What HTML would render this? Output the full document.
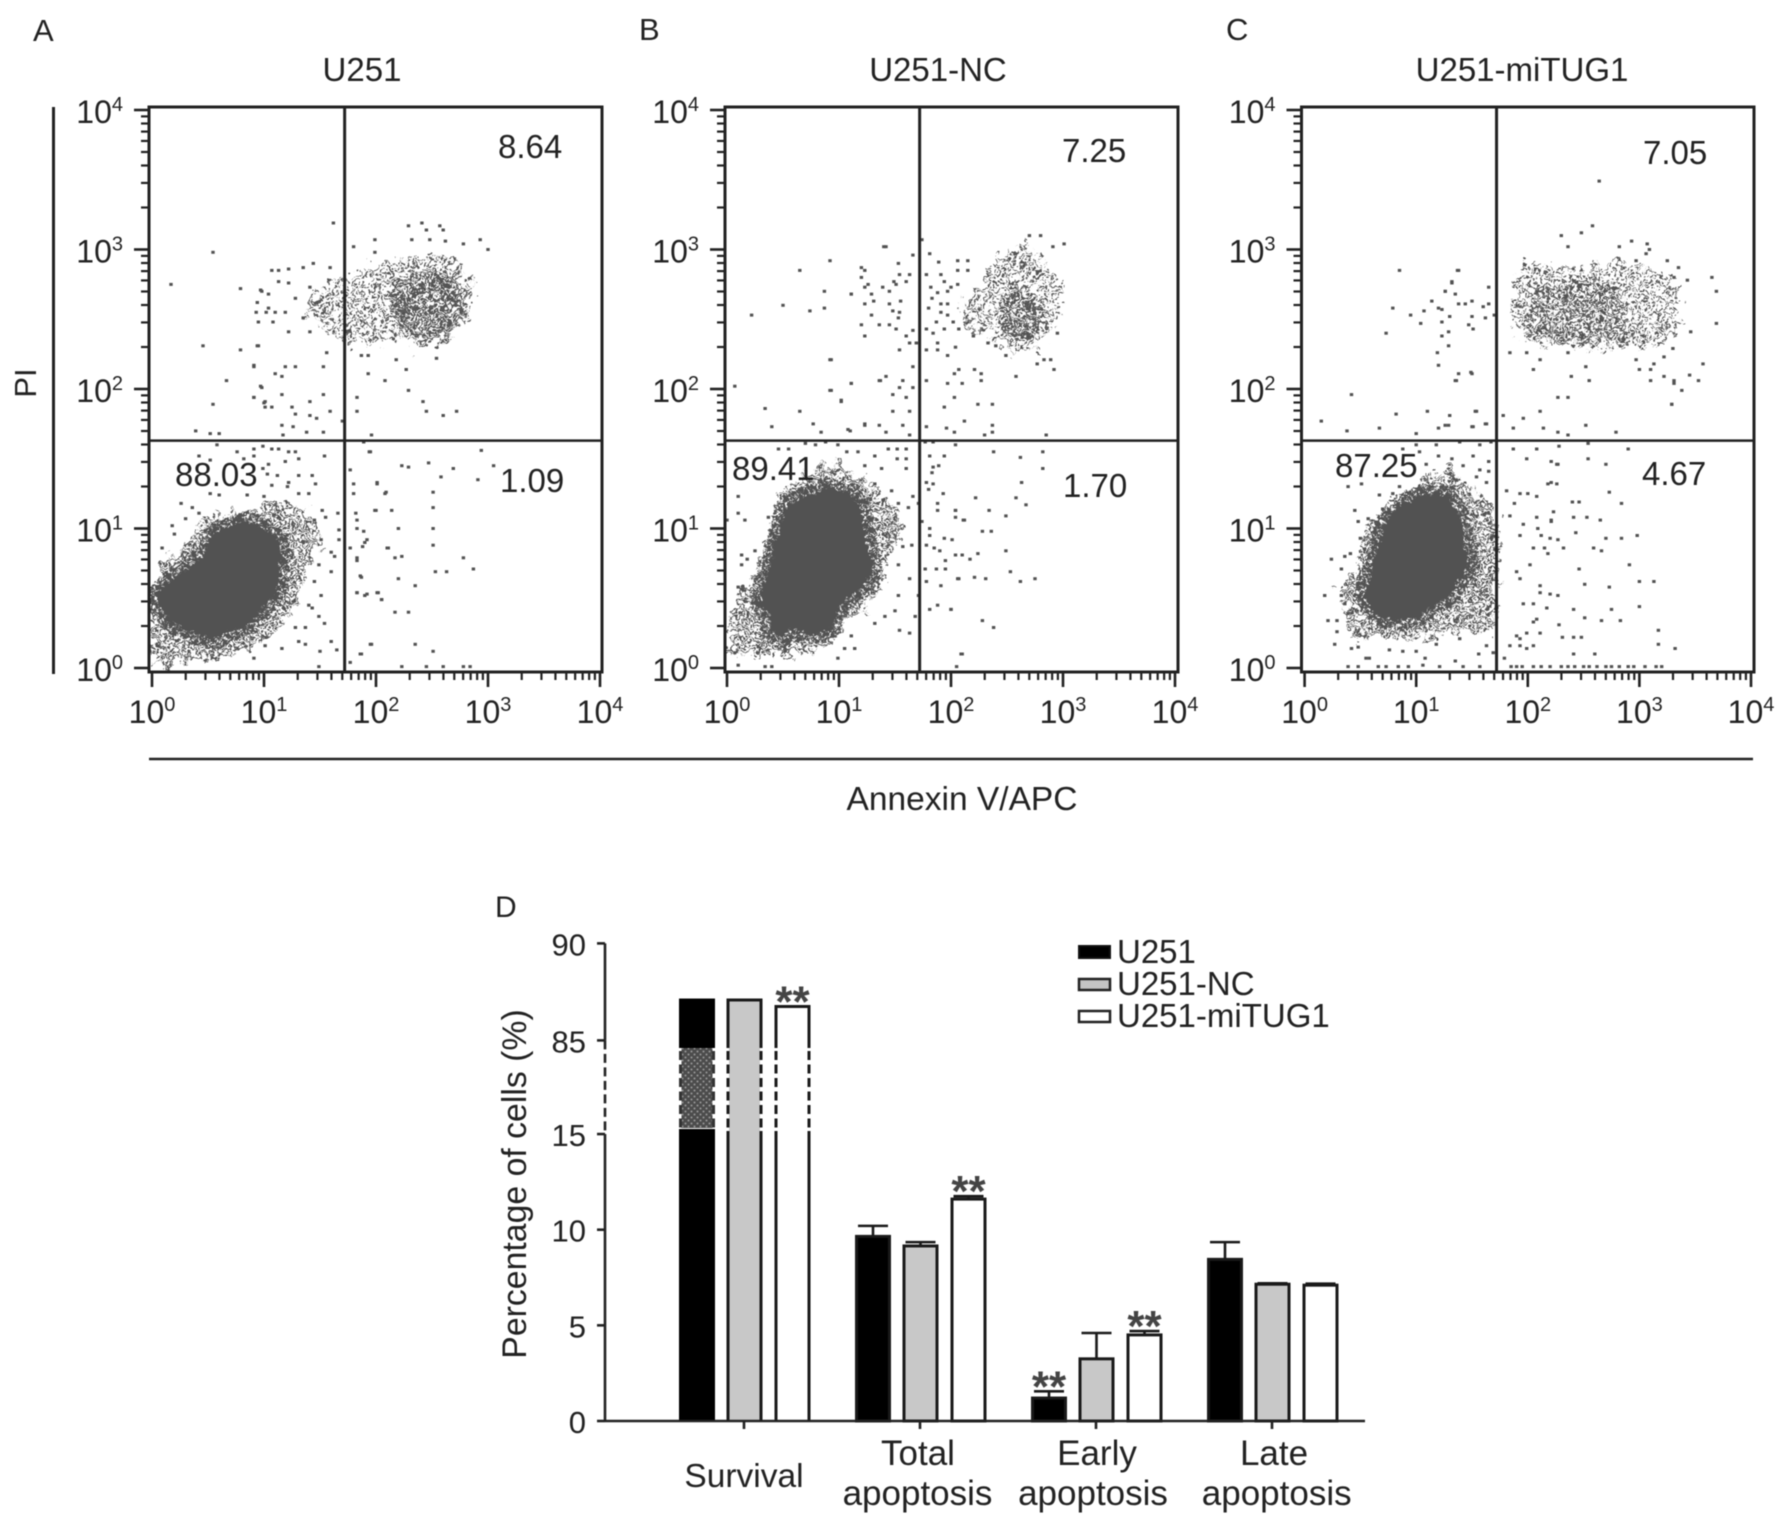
<!DOCTYPE html>
<html lang="en">
<head>
<meta charset="utf-8">
<title>Annexin V / PI apoptosis assay</title>
<style>
html,body{margin:0;padding:0;background:#fff;}
#figure{display:block;width:1786px;height:1530px;filter:blur(.45px);}
text{font-family:"Liberation Sans",sans-serif;fill:#222;}
</style>
</head>
<body>
<svg id="figure" xmlns="http://www.w3.org/2000/svg" width="1786" height="1530" viewBox="0 0 1786 1530">
  <defs id="defs">
    <pattern id="hatch" width="6" height="6" patternUnits="userSpaceOnUse">
      <rect width="6" height="6" fill="#4c4c4c"/>
      <circle cx="1.5" cy="1.5" r="1" fill="#9a9a9a"/>
      <circle cx="4.5" cy="4.5" r="1" fill="#9a9a9a"/>
    </pattern>
    <filter id="rough-wide" x="-25%" y="-25%" width="150%" height="150%" color-interpolation-filters="sRGB">
      <feTurbulence type="fractalNoise" baseFrequency="0.11" numOctaves="3" seed="7" result="n"/>
      <feDisplacementMap in="SourceGraphic" in2="n" scale="26" xChannelSelector="R" yChannelSelector="G"/>
    </filter>
    <filter id="rough-core" x="-15%" y="-15%" width="130%" height="130%" color-interpolation-filters="sRGB">
      <feTurbulence type="fractalNoise" baseFrequency="0.22" numOctaves="2" seed="3" result="n"/>
      <feDisplacementMap in="SourceGraphic" in2="n" scale="10" xChannelSelector="R" yChannelSelector="G"/>
    </filter>
  </defs>
  <g id="panel-a"></g>
  <g id="panel-b"></g>
  <g id="panel-c"></g>
  <g id="bars"></g>

  <text x="33" y="41" font-size="31">A</text>
  <text x="639" y="40" font-size="31">B</text>
  <text x="1226" y="40" font-size="31">C</text>
  <text x="495" y="917" font-size="30">D</text>

  <text x="362" y="81" font-size="33" text-anchor="middle">U251</text>
  <text x="938" y="81" font-size="33" text-anchor="middle">U251-NC</text>
  <text x="1522" y="81" font-size="33" text-anchor="middle">U251-miTUG1</text>

  <text x="498" y="158" font-size="33">8.64</text>
  <text x="500" y="492" font-size="33">1.09</text>
  <text x="175" y="486" font-size="33">88.03</text>
  <text x="1062" y="162" font-size="33">7.25</text>
  <text x="1063" y="497" font-size="33">1.70</text>
  <text x="732" y="480" font-size="33">89.41</text>
  <text x="1643" y="164" font-size="33">7.05</text>
  <text x="1642" y="485" font-size="33">4.67</text>
  <text x="1335" y="477" font-size="33">87.25</text>

  <line x1="53.5" y1="107" x2="53.5" y2="674" stroke="#222" stroke-width="3"/>
  <text transform="translate(36,383) rotate(-90)" font-size="31" text-anchor="middle">PI</text>
  <line x1="149" y1="759" x2="1753" y2="759" stroke="#222" stroke-width="2.5"/>
  <text x="962" y="810" font-size="33.5" text-anchor="middle">Annexin V/APC</text>

  <text transform="translate(526,1184) rotate(-90)" font-size="33.8" text-anchor="middle">Percentage of cells (%)</text>

  <g>
    <rect x="1079" y="946" width="31" height="12" fill="#000" stroke="#111" stroke-width="2"/>
    <text x="1117" y="963" font-size="33">U251</text>
    <rect x="1079" y="979" width="31" height="11" fill="#c4c4c4" stroke="#222" stroke-width="2.5"/>
    <text x="1117" y="995" font-size="33">U251-NC</text>
    <rect x="1079" y="1011" width="31" height="11" fill="#fff" stroke="#222" stroke-width="2.5"/>
    <text x="1117" y="1027" font-size="33">U251-miTUG1</text>
  </g>
</svg>

<script>
/* ---------- Bar chart data ---------- */
const barCategories = [["Survival"],["Total","apoptosis"],["Early","apoptosis"],["Late","apoptosis"]];
const barTickValues = [0,5,10,15,85,90];
const barTickLabels = ["0","5","10","15","85","90"];
const u251Values = [87.08,9.65,1.2,8.45];
const ncValues = [87.08,9.15,3.25,7.15];
const mitug1Values = [86.75,11.6,4.5,7.1];
const u251Errors = [0,0.55,0.35,0.9];
const ncErrors = [0,0.2,1.35,0.05];
const mitug1Errors = [0,0.15,0.2,0.08];
const significanceU251 = [false,false,true,false];
const significanceNc = [false,false,false,false];
const significanceMitug1 = [true,true,true,false];

/* ---------- Flow cytometry data: log10 decades of [Annexin V, PI] ---------- */
const decadeTicks = [0,1,2,3,4];
const decadeLabels = ["0","1","2","3","4"];
const minorMultiples = [2,3,4,5,6,7,8,9];

const gateA = [1.72,1.63];
const gateB = [1.72,1.63];
const gateC = [1.72,1.63];

const coreA = [[.03,.52],[.15,.62],[.30,.69],[.48,.81],[.54,.95],[.69,1.01],[.84,1.05],[.99,1.00],[1.12,.93],[1.15,.81],[1.13,.64],[1.10,.52],[.99,.43],[.87,.31],[.69,.26],[.54,.20],[.36,.26],[.18,.33],[.06,.43]];
const haloA = [[0,.54],[.09,.78],[.30,.86],[.36,.97],[.54,1.12],[.81,1.08],[1.07,1.19],[1.37,1.14],[1.52,.93],[1.37,.69],[1.28,.45],[1.10,.26],[.87,.16],[.69,.07],[.48,.07],[.15,.02],[0,.02]];
const clusterA = [[1.35,2.55],[1.50,2.75],[1.83,2.84],[2.13,2.91],[2.42,2.96],[2.72,2.91],[2.87,2.75],[2.81,2.48],[2.66,2.34],[2.39,2.29],[2.21,2.36],[1.92,2.34],[1.74,2.32],[1.53,2.43]];
const clusterDenseA = [[2.15,2.78],[2.4,2.85],[2.7,2.85],[2.8,2.65],[2.75,2.45],[2.55,2.33],[2.25,2.4],[2.12,2.55]];
const eventsA = [[1.07,2.85],[1.13,2.85],[1.22,2.86],[1.35,2.87],[1.44,2.90],[1.59,2.87],[1.13,2.77],[1.22,2.76],[.98,2.70],[1.04,2.68],[1.28,2.65],[1.41,2.73],[.93,2.55],[1.04,2.58],[1.10,2.55],[1.19,2.55],[.95,2.48],[1.08,2.48],[1.22,2.41],[1.35,2.51],[1.41,2.41],[.95,2.31],[1.56,2.26],[.91,2.16],[1.19,2.16],[1.28,2.16],[1.53,2.16],[1.10,2.11],[1.16,2.09],[.98,2.01],[.91,1.94],[1.16,1.96],[1.53,1.96],[1.01,1.91],[1.01,1.87],[1.07,1.87],[1.25,1.87],[1.41,1.91],[1.28,1.82],[1.41,1.81],[1.47,1.79],[1.59,1.84],[1.16,1.74],[1.26,1.73],[1.38,1.69],[1.53,1.69],[1.70,1.77],[1.17,1.67],
[1.62,3.19],[1.80,3.02],[1.99,3.07],[1.99,2.98],[2.29,3.17],[2.41,3.19],[2.57,3.17],[2.60,3.14],[2.45,3.14],[2.32,3.07],[2.48,3.07],[2.62,3.06],[2.93,3.07],[3.00,3.00],[2.78,3.04],[2.18,2.21],[2.27,2.14],[1.93,2.11],[2.08,2.06],[2.29,1.99],[2.42,1.91],[2.45,1.84],[2.60,1.81],[2.72,1.84],[1.83,1.94],[1.83,1.84],[1.87,2.24],[1.93,2.24],[2.54,2.22],[1.96,1.67],
[.17,2.75],[.545,2.98],[.455,2.31],[.665,2.06],[.545,1.89],[.79,2.72],[.79,2.28],[.94,2.31],[.91,2.17],[.97,2.02],[.91,1.94],[1.0,1.9],[.39,1.70],[.52,1.68],[.6,1.68],[.97,2.71],[.94,2.62],[1.02,2.55],
[.58,1.60],[.91,1.57],[.99,1.59],[1.07,1.57],[1.13,1.57],[1.22,1.55],[1.28,1.55],[.42,1.52],[.52,1.49],[.76,1.55],[.91,1.52],[.82,1.50],[1.54,1.52],[1.31,1.50],[1.19,1.48],[1.04,1.46],[.99,1.43],[1.03,1.39],[1.12,1.38],[1.31,1.38],[1.43,1.38],[1.22,1.33],[1.21,1.30],[1.46,1.32],[1.07,1.31],[.52,1.25],[.60,1.24],[.85,1.24],[1.0,1.23],[1.31,1.25],[1.40,1.25],[.26,1.18],[.36,1.15],[.42,1.11],[.30,1.07],[.18,1.02],[.20,.96],[1.52,1.13],[1.66,1.11],[1.55,1.08],[1.45,1.06],[1.67,.99],[1.51,.92],[1.67,.92],[.09,.86],[1.60,.83],[1.63,.80],[1.49,.74],[1.60,.69],[1.45,.62],[1.51,.52],[1.40,.45],[1.43,.43],[1.49,.37],[1.54,.32],[1.37,.29],[1.28,.29],[1.31,.19],[1.37,.17],[1.16,.14],[1.60,.19],[1.50,.12],[1.65,.13],[.91,.07],[1.49,.01],[1.01,.16],
[1.77,1.42],[1.95,1.55],[1.89,1.62],[1.80,1.32],[2.01,1.32],[2.08,1.25],[1.80,1.25],[2.0,1.13],[1.82,1.11],[1.83,1.06],[1.83,1.0],[1.89,.98],[1.92,.92],[1.88,.87],[1.77,.86],[2.10,.86],[1.83,.77],[1.86,.66],[1.83,.54],[1.90,.52],[2.02,.54],[2.05,.49],[1.95,.17],[1.86,.1],[1.77,.04],
[1.94,1.55],[2.23,1.45],[2.29,1.44],[2.47,1.47],[2.69,1.43],[2.94,1.56],[3.05,1.45],[2.58,1.37],[2.91,1.35],[2.01,1.33],[2.09,1.26],[2.51,1.26],[2.51,1.15],[2.14,1.13],[1.99,1.13],[2.51,1.0],[2.2,1.0],[2.51,.88],[2.11,.86],[1.90,.9],[2.23,.8],[2.17,.79],[2.78,.79],[2.87,.71],[2.53,.69],[2.63,.69],[2.2,.64],[2.35,.59],[1.83,.79],[1.87,.65],[1.83,.54],[1.92,.53],[2.01,.54],[2.05,.49],[2.17,.4],[2.29,.4],[1.96,.17],[1.87,.1],[2.35,.17],[2.51,.12],[2.23,.01],[2.45,.01],[2.78,.01],[2.6,.01],[2.84,.01]];

const coreB = [[.31,.54],[.37,.69],[.43,.88],[.50,1.07],[.55,1.17],[.73,1.24],[.93,1.29],[1.11,1.24],[1.20,1.14],[1.22,1.00],[1.26,.88],[1.29,.74],[1.26,.64],[1.11,.52],[.99,.43],[.93,.28],[.76,.25],[.55,.28],[.49,.21],[.40,.26],[.37,.40],[.31,.45]];
const haloB = [[0,.26],[.10,.52],[.28,.69],[.34,.90],[.43,1.12],[.52,1.29],[.70,1.38],[.93,1.48],[1.11,1.41],[1.29,1.33],[1.50,1.14],[1.56,1.00],[1.41,.74],[1.38,.57],[1.23,.43],[1.02,.31],[.91,.14],[.58,.09],[.28,.09],[0,.11]];
const clusterB = [[2.11,2.63],[2.32,2.82],[2.44,2.96],[2.65,3.06],[2.79,2.94],[3.00,2.77],[2.97,2.51],[2.82,2.36],[2.77,2.27],[2.50,2.29],[2.32,2.39],[2.17,2.43],[2.08,2.53]];
const clusterDenseB = [[2.42,2.58],[2.6,2.8],[2.78,2.62],[2.88,2.45],[2.72,2.36],[2.48,2.38]];
const eventsB = [[1.42,3.02],[1.66,2.96],[1.81,2.97],[1.53,2.90],[1.20,2.87],[1.23,2.85],[1.20,2.80],[1.54,2.82],[1.63,2.82],[1.60,2.77],[1.49,2.77],[1.51,2.75],[1.26,2.75],[1.23,2.73],[1.39,2.73],[1.45,2.70],[1.11,2.68],[1.29,2.68],[1.31,2.63],[1.23,2.61],[1.45,2.61],[1.55,2.63],[1.48,2.56],[1.54,2.55],[1.29,2.53],[1.53,2.51],[1.20,2.46],[1.36,2.46],[1.45,2.46],[1.51,2.43],[1.23,2.38],[1.60,2.38],[1.63,2.33],[1.69,2.33],[1.54,2.28],[1.66,2.42],[.93,2.21],[1.66,2.16],[1.42,2.09],[1.36,2.06],[1.57,2.06],[1.11,2.04],[1.54,2.01],[1.66,2.01],[.93,1.99],[1.48,1.96],[1.60,1.94],[1.02,1.91],[1.48,1.84],[1.63,1.84],[1.23,1.74],[1.36,1.74],[1.57,1.74],[1.08,1.71],[1.42,1.69],[1.63,1.67],
[1.78,2.82],[1.91,2.82],[1.89,2.91],[2.06,2.92],[2.15,2.92],[2.06,2.85],[2.15,2.85],[1.94,2.77],[2.06,2.75],[1.82,2.73],[2.0,2.73],[1.88,2.69],[1.83,2.65],[1.97,2.70],[1.91,2.61],[1.97,2.61],[1.80,2.58],[1.91,2.55],[1.97,2.53],[1.87,2.48],[2.02,2.48],[1.78,2.43],[1.94,2.43],[1.84,2.40],[2.07,2.43],[1.88,2.33],[1.78,2.28],[1.88,2.28],[2.04,2.30],[1.97,2.24],[2.20,2.38],[2.33,2.33],[2.40,2.31],[2.49,2.24],[2.77,2.18],[2.83,2.21],[2.89,2.21],[2.92,2.14],[2.95,2.40],[2.07,2.14],[2.03,2.11],[2.21,2.14],[2.27,2.11],[2.27,2.06],[2.58,2.09],[1.78,2.06],[1.97,2.04],[2.10,2.04],[2.03,1.94],[1.94,1.87],[2.24,1.89],[2.37,1.89],[2.12,1.77],[1.78,1.73],[1.96,1.72],[2.03,1.69],[2.37,1.74],[2.37,1.69],[2.30,1.67],[2.85,1.67],[2.91,3.02],[3.01,3.04],[2.70,3.10],[2.80,3.10],[1.74,3.07],
[.22,2.53],[.50,2.60],[.65,2.85],[.74,2.56],[.87,2.58],[.87,2.70],[.92,2.92],[1.40,3.02],[1.11,2.68],[.92,2.21],[.07,2.02],[1.11,2.04],[.92,1.99],[1.02,1.92],[.34,1.86],[.65,1.84],[.40,1.73],[.77,1.75],[1.10,1.70],[.84,1.69],[1.23,1.75],[1.37,2.06],
[.46,1.57],[.55,1.57],[.70,1.61],[.79,1.60],[.88,1.62],[.99,1.60],[1.07,1.55],[1.17,1.55],[1.32,1.52],[1.44,1.57],[1.52,1.57],[1.60,1.57],[1.52,1.50],[1.60,1.50],[1.23,1.45],[1.38,1.43],[1.60,1.43],[1.32,1.32],[1.47,1.27],[1.66,1.23],[1.53,1.18],[1.62,1.15],[1.71,1.18],[.10,1.23],[.10,1.11],[.16,1.06],[.37,1.08],[0,1.06],[.25,.84],[.13,.81],[.18,.78],[.13,.74],[.10,.58],[1.65,.88],[1.74,1.05],[1.57,.87],[1.53,.74],[1.63,.64],[1.71,.52],[1.53,.52],[1.50,.41],[1.41,.37],[1.32,.32],[1.54,.27],[1.63,.25],[1.68,.37],[1.11,.23],[1.05,.14],[1.14,.14],[.99,.07],[.10,.02],[.34,.01],[.40,.01],[.07,.11],
[1.77,1.62],[1.84,1.62],[2.04,1.60],[1.81,1.52],[1.94,1.52],[1.84,1.44],[1.89,1.45],[1.83,1.40],[1.78,1.33],[1.84,1.32],[1.80,1.28],[1.93,1.25],[1.88,1.18],[1.88,1.13],[2.04,1.13],[2.11,1.06],[2.04,1.08],[1.81,1.0],[1.81,.95],[1.94,.93],[2.01,.92],[1.78,.88],[1.85,.86],[1.90,.84],[2.04,.81],[2.10,.81],[1.77,.71],[1.87,.71],[1.95,.77],[1.95,.71],[2.06,.64],[1.78,.62],[1.91,.59],[1.88,.45],[1.81,.42],[2.0,.42],[2.10,.10],
[2.38,1.55],[2.62,1.51],[2.82,1.55],[2.82,1.43],[2.63,1.33],[2.58,1.22],[2.67,1.17],[2.22,1.22],[2.34,1.13],[2.49,1.09],[2.04,1.13],[2.12,1.06],[2.28,.98],[2.36,.98],[2.49,.84],[2.17,.78],[2.24,.82],[2.53,.69],[2.75,.64],[2.62,.62],[2.31,.64],[2.21,.65],[2.07,.64],[2.0,.42],[2.28,.34],[2.38,.29],[2.09,.1],[2.05,.01]];

const coreC = [[.53,.52],[.61,.71],[.66,.88],[.73,1.05],[.85,1.17],[1.06,1.24],[1.27,1.24],[1.36,1.14],[1.42,1.00],[1.42,.88],[1.48,.74],[1.39,.64],[1.30,.52],[1.15,.45],[1.03,.38],[.88,.34],[.70,.36],[.59,.43]];
const haloC = [[.32,.57],[.50,.74],[.53,.97],[.73,1.14],[1.00,1.31],[1.27,1.45],[1.48,1.29],[1.72,1.14],[1.75,.88],[1.72,.54],[1.72,.26],[1.42,.26],[1.03,.21],[.59,.23],[.41,.16],[.38,.40]];
const clusterC = [[1.87,2.48],[1.88,2.75],[1.99,2.91],[2.35,2.86],[2.76,2.91],[3.12,2.86],[3.33,2.77],[3.36,2.48],[3.24,2.32],[3.00,2.29],[2.76,2.29],[2.41,2.29],[2.20,2.32],[1.96,2.36]];
const clusterDenseC = [[1.95,2.4],[2.0,2.7],[2.45,2.8],[2.85,2.72],[2.9,2.35],[2.45,2.32]];
const eventsC = [[1.38,2.85],[1.32,2.76],[1.26,2.70],[1.35,2.68],[1.65,2.73],[1.38,2.61],[1.44,2.61],[1.50,2.63],[1.23,2.57],[1.60,2.59],[1.65,2.61],[1.30,2.52],[1.50,2.52],[1.62,2.51],[1.23,2.48],[1.47,2.46],[1.51,2.43],[1.29,2.41],[1.23,2.38],[1.29,2.31],[1.38,2.11],[1.50,2.11],[1.35,2.06],[1.53,1.84],[1.26,1.74],[1.29,1.74],[1.50,1.73],[1.62,1.75],[1.70,2.53],
[2.30,3.10],[2.48,3.12],[2.58,3.17],[2.36,3.02],[2.82,3.02],[2.93,3.06],[3.07,3.04],[3.09,3.0],[3.06,2.97],[2.97,2.92],[3.25,2.92],[3.35,2.87],[3.31,2.80],
[2.36,2.26],[2.11,2.21],[1.99,2.26],[1.84,2.26],[2.05,2.14],[2.39,2.09],[2.52,2.16],[2.55,2.06],[2.97,2.21],[3.0,2.14],[3.10,2.14],[3.13,2.18],[3.10,2.06],[3.22,2.09],[3.22,2.23],[3.30,2.29],[3.31,2.04],[3.29,1.89],[2.27,1.94],[2.36,1.94],[2.11,1.84],[1.96,1.79],[1.78,1.81],[1.87,1.72],[2.14,1.72],[2.27,1.69],[2.52,1.74],[2.79,1.69],[2.36,1.67],
[2.64,3.49],[3.65,2.80],[3.69,2.70],[3.69,2.47],[3.57,2.18],[3.53,2.06],[3.45,2.10],[3.38,1.99],[3.29,1.89],[3.31,2.06],[3.46,2.41],[3.43,2.78],
[.85,2.85],[1.37,2.85],[1.32,2.77],[1.26,2.70],[.79,2.58],[.95,2.53],[.73,2.40],[1.14,2.63],[1.20,2.58],[1.07,2.56],[1.04,2.47],[1.19,2.26],[1.20,2.17],[1.36,2.06],[1.49,2.12],[.42,1.96],[.15,1.77],[.38,1.70],[.67,1.72],[.82,1.82],[1.10,1.84],[1.30,1.81],[1.54,1.84],[1.51,1.73],[1.63,1.75],[1.20,1.72],[1.0,1.68],
[.88,1.57],[1.0,1.60],[1.18,1.60],[1.39,1.62],[1.57,1.60],[1.67,1.62],[1.03,1.55],[1.20,1.52],[1.32,1.50],[1.51,1.52],[1.65,1.48],[1.09,1.46],[1.42,1.45],[1.57,1.42],[1.65,1.41],[.51,1.32],[.39,1.30],[.67,1.24],[.85,1.30],[.79,1.25],[1.54,1.37],[1.63,1.33],[.45,1.13],[.48,1.05],[.57,1.07],[.70,1.14],[.50,.93],[.24,.78],[.36,.80],[.41,.82],[.33,.71],[.18,.52],[.33,.52],[.36,.46],[.39,.39],[.21,.34],[.29,.34],[.29,.26],[.27,.17],[.42,.14],[.48,.15],[.55,.07],[.58,.07],[.76,.13],[.88,.12],[1.0,.12],[1.08,.07],[1.18,.17],[1.35,.05],[1.56,.10],[1.63,.16],[1.39,.21],[.39,.01],[.48,.01],[.66,.01],[.73,.01],[.84,.01],[.93,.01],[1.06,.02],[1.21,.01],[1.42,.01],[1.69,.11],[1.57,.01],
[1.87,1.57],[2.08,1.57],[1.99,1.50],[2.21,1.48],[2.27,1.46],[1.93,1.25],[2.0,1.25],[1.81,1.27],[2.08,1.23],[2.18,1.32],[2.26,1.32],[1.88,1.18],[1.84,1.09],[1.96,1.03],[2.08,1.08],[2.21,1.05],[2.23,1.12],[2.09,1.0],[2.12,.95],[2.20,.93],[2.27,.92],[1.93,.95],[2.05,.86],[2.15,.86],[2.18,.82],[2.02,.74],[1.90,.69],[1.93,.64],[2.11,.59],[2.11,.54],[2.20,.53],[2.27,.52],[1.96,.46],[2.05,.46],[2.17,.43],[2.08,.35],[2.05,.33],[2.11,.25],[1.99,.25],[1.93,.21],[1.99,.14],[2.05,.16],[1.93,.16],[1.90,.23],[1.79,.07],[1.84,.16],
[2.28,1.59],[2.54,1.61],[2.70,1.46],[2.90,1.57],[2.54,1.50],[2.26,1.46],[2.21,1.33],[2.73,1.26],[2.84,1.18],[2.40,1.19],[2.46,1.19],[2.41,1.08],[2.53,1.08],[2.65,1.06],[2.21,1.06],[2.43,.97],[2.70,.93],[2.84,.93],[2.98,.95],[2.59,.86],[2.66,.84],[2.32,.86],[2.91,.74],[2.46,.71],[2.51,.6],[2.73,.58],[3.0,.62],[3.13,.62],[3.0,.44],[2.75,.42],[2.66,.34],[2.83,.34],[3.17,.27],[3.17,.17],[3.32,.14],[2.41,.42],[2.51,.36],[2.31,.22],[2.41,.22],[2.48,.22],[2.28,.31],[2.6,.1],[2.41,.1],
[1.85,.01],[1.9,.01],[1.95,.01],[2.05,.01],[2.12,.01],[2.2,.01],[2.3,.01],[2.36,.01],[2.42,.01],[2.5,.01],[2.55,.01],[2.62,.01],[2.7,.01],[2.75,.01],[2.82,.01],[2.9,.01],[2.95,.01],[3.05,.01],[3.15,.01],[3.2,.01]];

/* ---------- Stipple textures (not data: visual grain of saturated event regions) ---------- */
const denseGrain = ["1011010011101001","0110111010010110","1101001101101011","1010110010110100","0111001101011101","1100110110100110","0011011001101011","1101100110010101","0110101011101100","1011010100110111","1100101101011010","0101110010101101","1010011101100110","0111100110011011","1001011010110100","0110100111001011"];
const mediumGrain = ["0101000111001000","1000110000100110","0110001001011001","0001100110000100","1100010000110010","0010101100001101","1001000011010000","0100110100100110","0011000010011001","1100011001000100","0001100100101010","0110010011000001","1000101000110100","0011000110001011","1100110001010000","0010001100100110"];
const sparseGrain = ["0100100001000100","0001001100010001","1000000000100100","0010010011000000","0000100000001011","0110000101000000","0000011000010010","1001000000100100","0010001001000001","0000100100001000","1100000010010010","0001010000100000","0100001001001000","0000100000010101","1010000110000000","0001001000100100"];

const SVGNS = "http://www.w3.org/2000/svg";
const DOT = "#525252", INK = "#222";
function mk(tag, parent, attrs, txt){
  const el = document.createElementNS(SVGNS, tag);
  for (const k in attrs) el.setAttribute(k, attrs[k]);
  if (txt !== undefined) el.textContent = txt;
  parent.appendChild(el);
  return el;
}

function buildGrain(id, rows, shift){
  const cell = 2.7, n = rows.length;
  const p = mk('pattern', document.getElementById('defs'), {id:id, width:cell*n, height:cell*n, patternUnits:'userSpaceOnUse', patternTransform:'translate(' + shift + ')'});
  rows.forEach((row, r) => {
    [...row].forEach((c, col) => {
      if (c === '1') mk('rect', p, {x:col*cell, y:r*cell, width:3, height:2.9, fill:DOT});
    });
  });
}
buildGrain('grain-dense', denseGrain, '0 0');
buildGrain('grain-medium', mediumGrain, '0 0');
buildGrain('grain-sparse', sparseGrain, '0 0');
buildGrain('grain-sparse-shift', sparseGrain, '9 14');

function drawPanel(groupId, frame, gate, halo, core, cluster, clusterDense, clusterDenseFill, events){
  const g = document.getElementById(groupId);
  const sx = d => frame.x0 + d * frame.dx;
  const sy = d => 668 - d * 139.5;
  const pts = arr => arr.map(p => sx(p[0]).toFixed(1) + ',' + sy(p[1]).toFixed(1)).join(' ');

  const clip = mk('clipPath', document.getElementById('defs'), {id:'clip-' + groupId});
  mk('rect', clip, {x:frame.left, y:107, width:frame.right-frame.left, height:565});
  const plot = mk('g', g, {'clip-path':'url(#clip-' + groupId + ')'});

  const haloEl = mk('polygon', plot, {points:pts(halo), fill:'url(#grain-medium)', filter:'url(#rough-wide)'});
  
  

  const ringEl = mk('polygon', plot, {points:pts(core), fill:'none', stroke:'url(#grain-dense)', 'stroke-width':20, filter:'url(#rough-core)'});
  
  

  const coreEl = mk('polygon', plot, {points:pts(core), fill:DOT, filter:'url(#rough-core)'});
  
  

  const clusterEl = mk('polygon', plot, {points:pts(cluster), fill:'url(#grain-sparse)', filter:'url(#rough-wide)'});
  
  

  const clusterDenseEl = mk('polygon', plot, {points:pts(clusterDense), fill:clusterDenseFill, filter:'url(#rough-wide)'});
  
  

  events.forEach(e => {
    const dot = mk('rect', plot, {x:(sx(e[0])-1.7).toFixed(1), y:(sy(e[1])-1.5).toFixed(1), width:3.4, height:3, fill:DOT});
    
    
  });

  const box = mk('rect', g, {x:frame.left, y:107, width:frame.right-frame.left, height:565, fill:'none', stroke:INK, 'stroke-width':3});
  
  

  const vg = mk('line', g, {x1:sx(gate[0]), y1:107, x2:sx(gate[0]), y2:672, stroke:INK, 'stroke-width':3});
  
  

  const hg = mk('line', g, {x1:frame.left, y1:sy(gate[1]), x2:frame.right, y2:sy(gate[1]), stroke:INK, 'stroke-width':2.4});
  
  

  decadeTicks.forEach((d, i) => {
    const xt = mk('line', g, {x1:sx(d), y1:672, x2:sx(d), y2:687, stroke:INK, 'stroke-width':2.6});
    
    
    const yt = mk('line', g, {x1:frame.left-15, y1:sy(d), x2:frame.left, y2:sy(d), stroke:INK, 'stroke-width':2.6});
    
    

    const xl = mk('text', g, {x:sx(d), y:723, 'font-size':32, 'text-anchor':'middle'});
    
    
    mk('tspan', xl, {}, '10');
    mk('tspan', xl, {dy:-12, 'font-size':20}, decadeLabels[i]);

    const yl = mk('text', g, {x:frame.left-26, y:sy(d)+13, 'font-size':32, 'text-anchor':'end'});
    
    
    mk('tspan', yl, {}, '10');
    mk('tspan', yl, {dy:-12, 'font-size':20}, decadeLabels[i]);

    if (d < decadeTicks[decadeTicks.length-1]) {
      minorMultiples.forEach(m => {
        const o = d + Math.log10(m);
        const xm = mk('line', g, {x1:sx(o), y1:672, x2:sx(o), y2:680, stroke:INK, 'stroke-width':2.2});
        
        
        const ym = mk('line', g, {x1:frame.left-8, y1:sy(o), x2:frame.left, y2:sy(o), stroke:INK, 'stroke-width':2.2});
        
        
      });
    }
  });
}

drawPanel('panel-a', {x0:152, dx:112, left:149, right:602}, gateA, haloA, coreA, clusterA, clusterDenseA, 'url(#grain-medium)', eventsA);
drawPanel('panel-b', {x0:727, dx:112, left:725, right:1178}, gateB, haloB, coreB, clusterB, clusterDenseB, 'url(#grain-medium)', eventsB);
drawPanel('panel-c', {x0:1304.6, dx:111.6, left:1301.5, right:1754}, gateC, haloC, coreC, clusterC, clusterDenseC, 'url(#grain-sparse-shift)', eventsC);

/* ---------- Bar chart ---------- */
(function(){
  const g = document.getElementById('bars');
  const axisX = 605, baseY = 1421, rightX = 1365;
  const y = v => {
    if (v <= 15) return baseY - v * 19.13;
    if (v >= 85) return 1040.4 - (v - 85) * 19.4;
    return 1134 - (v - 15) * (1134 - 1040.4) / 70;
  };
  const bandX = i => 744 + 176 * i;
  const series = [
    {name:'u251', values:u251Values, errors:u251Errors, sig:significanceU251, offset:-47, fill:'#000'},
    {name:'u251-nc', values:ncValues, errors:ncErrors, sig:significanceNc, offset:0.5, fill:'#c8c8c8'},
    {name:'u251-mitug1', values:mitug1Values, errors:mitug1Errors, sig:significanceMitug1, offset:48.5, fill:'#fff'}
  ];
  const W = 33, breakTop = 1051, breakBottom = 1128;

  series.forEach(s => {
    s.values.forEach((v, i) => {
      const cx = bandX(i) + s.offset;
      const top = y(v), xl = cx - W/2, xr = cx + W/2;
      const errTop = y(v + s.errors[i]);
      if (s.errors[i] > 0) {
        const stem = mk('line', g, {x1:cx, y1:top, x2:cx, y2:errTop, stroke:'#1a1a1a', 'stroke-width':2.6});
        
        
        const cap = mk('line', g, {x1:cx-15, y1:errTop, x2:cx+15, y2:errTop, stroke:'#1a1a1a', 'stroke-width':2.6});
        
        
      }
      if (i === 0) {
        const isBlack = s.name === 'u251';
        const fill = mk('rect', g, isBlack
          ? {x:xl-1.5, y:top-1.5, width:W+3, height:baseY-top+1.5, fill:s.fill}
          : {x:xl+1, y:top, width:W-2, height:baseY-top, fill:s.fill});
        
        
        if (isBlack) {
          const gap = mk('rect', g, {x:xl-2, y:1048, width:W+4, height:81, fill:'#fff'});
          
          
          const hatch = mk('rect', g, {x:xl+1, y:1048, width:W-2, height:80, fill:'url(#hatch)'});
          
          
        } else {
          const path = mk('path', g, {d:`M${xl} ${baseY}V${breakBottom+3}M${xl} ${breakTop-3}V${top}H${xr}V${breakTop-3}M${xr} ${breakBottom+3}V${baseY}`, fill:'none', stroke:'#1a1a1a', 'stroke-width':3});
          
          
        }
        [xl, xr].forEach(sideX => {
          const dash = mk('line', g, {x1:sideX, y1:breakTop, x2:sideX, y2:breakBottom, stroke:isBlack?'#333':'#1a1a1a', 'stroke-width':3, 'stroke-dasharray':'9 4.5'});
          
          
        });
      } else {
        const bar = mk('rect', g, {x:xl, y:top, width:W, height:baseY-top, fill:s.fill, stroke:'#1a1a1a', 'stroke-width':3});
        
        
      }
      if (s.sig[i]) {
        const stars = mk('text', g, {x:cx, y:errTop+10, 'font-size':44, 'font-weight':'bold', 'text-anchor':'middle', style:'fill:#444'}, '**');
        
        
      }
    });
  });

  const axisLow = mk('line', g, {x1:axisX, y1:y(15), x2:axisX, y2:baseY+1, stroke:INK, 'stroke-width':2.6});
  
  
  const axisHigh = mk('line', g, {x1:axisX, y1:y(90), x2:axisX, y2:y(85), stroke:INK, 'stroke-width':2.6});
  
  
  const axisBreak = mk('line', g, {x1:axisX, y1:y(85), x2:axisX, y2:y(15), stroke:INK, 'stroke-width':2.6, 'stroke-dasharray':'9 4.5'});
  
  
  const axisX2 = mk('line', g, {x1:axisX, y1:baseY, x2:rightX, y2:baseY, stroke:INK, 'stroke-width':2.6});
  
  

  barTickValues.forEach((v, i) => {
    const t = mk('line', g, {x1:axisX-8, y1:y(v), x2:axisX, y2:y(v), stroke:INK, 'stroke-width':2.6});
    
    
    const l = mk('text', g, {x:586, y:y(v)+12, 'font-size':31, 'text-anchor':'end'}, barTickLabels[i]);
    
    
  });

  const firstLineNudge = [0,-2,1,2];
  const secondLineNudge = [0,-2.5,-3,4.7];
  barCategories.forEach((lines, i) => {
    const cx = bandX(i);
    const t = mk('line', g, {x1:cx, y1:baseY, x2:cx, y2:baseY+8, stroke:INK, 'stroke-width':2.6});
    
    
    if (lines.length === 1) {
      const l = mk('text', g, {x:cx, y:1487, 'font-size':33.5, 'text-anchor':'middle'}, lines[0]);
      
      
    } else {
      const l1 = mk('text', g, {x:cx+firstLineNudge[i], y:1465, 'font-size':35, 'text-anchor':'middle'}, lines[0]);
      
      
      const l2 = mk('text', g, {x:cx+secondLineNudge[i], y:1505, 'font-size':35, 'text-anchor':'middle'}, lines[1]);
      
      
    }
  });
})();
</script>
</body>
</html>
